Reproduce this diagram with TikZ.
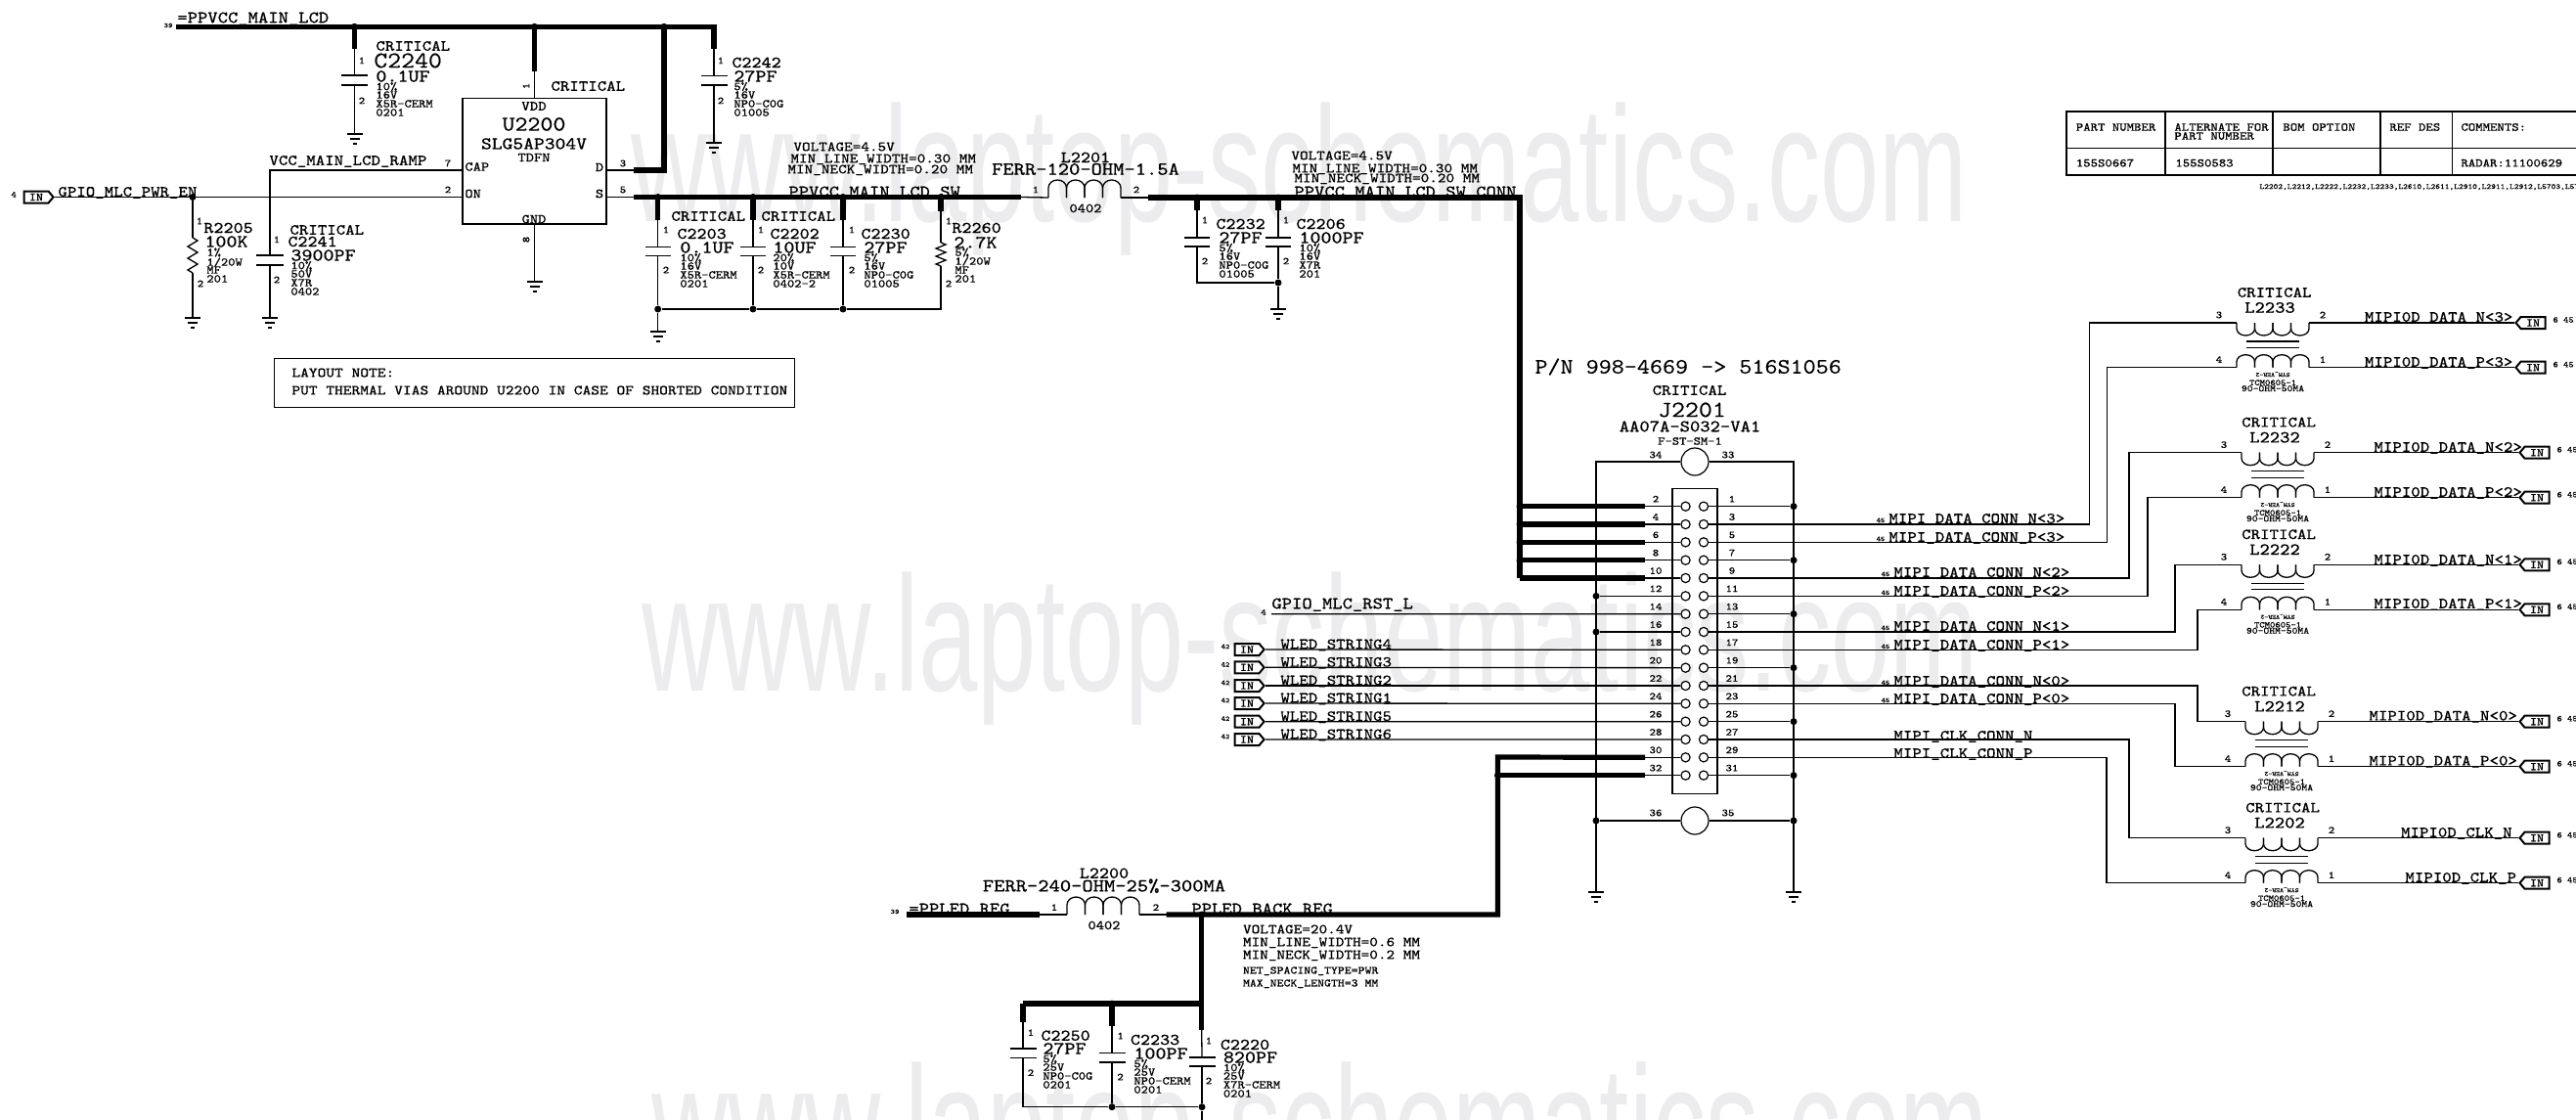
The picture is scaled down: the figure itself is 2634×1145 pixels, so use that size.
\documentclass[tikz,border=0pt]{standalone}
\usepackage{fontspec}
\setmainfont[FakeStretch=1.143,FakeBold=0.3]{Latin Modern Mono}
\newfontfamily\markfont[FakeStretch=0.645]{Liberation Sans}
\usetikzlibrary{shapes.symbols}
\definecolor{markgray}{RGB}{236,236,238}
\tikzset{
% Wires: signal and power
thin wire/.style={line width=0.65pt,draw=black},
bus/.style={line width=2.6pt,draw=black,line join=miter},
% Text set by size in pt, west or centre anchored
txt/.style={anchor=west,inner sep=0pt,text height=0.61*#1pt,text depth=0pt,font=\fontsize{#1}{#1}\selectfont},
ctxt/.style={anchor=center,inner sep=0pt,text height=0.61*#1pt,text depth=0pt,font=\fontsize{#1}{#1}\selectfont},
pin text/.style={ctxt=5.3},
tiny text/.style={ctxt=3.6},
% Node styles for the parts
solid dot/.style={circle,fill=black,inner sep=0pt,minimum size=3.5pt},
pin hole/.style={circle,draw,line width=0.6pt,fill=white,inner sep=0pt,minimum size=4.6pt},
mount hole/.style={circle,draw,line width=0.6pt,fill=white,inner sep=0pt,minimum size=14pt},
part box/.style={rectangle,draw,line width=0.65pt,inner sep=0pt},
in flag/.style={signal,signal pointer angle=100,draw,line width=1pt,fill=white,inner sep=0pt,minimum width=15pt,minimum height=6pt,font=\fontsize{5.8}{6}\selectfont},
grid line/.style={line width=0.65pt,draw=black},
water mark/.style={anchor=base west,inner sep=0pt,text=markgray,font=\markfont\fontsize{84}{84}\selectfont}
}
% Ground symbol
\newcommand{\gndsym}[3]{%
\coordinate (#1) at (#2,#3);
\draw[thin wire] (#1) ++(-8,0) -- ++(16,0) ++(-13,5) -- ++(10,0) ++(-7,5) -- ++(4,0);
}
% Capacitor: name, x, two plates, half width
\newcommand{\capsym}[5]{%
\coordinate (#1top) at (#2,#3);
\coordinate (#1bot) at (#2,#4);
\draw[thin wire] (#1top) ++(-#5,0) -- ++(2*#5,0) (#1bot) ++(-#5,0) -- ++(2*#5,0);
}
% Thick stub from a rail down to a capacitor
\newcommand{\capstub}[4]{%
\node[solid dot] (#1rail) at (#2,#3) {};
\coordinate (#1stub) at (#2,#4);
\draw[bus] (#1rail.center) -- (#1stub);
\draw[thin wire] (#1stub) -- (#1top);
}
\newcommand{\capname}[4]{\node[txt=#4] (#1ref) at (#2,#3) {#1};}
\newcommand{\cappins}[4]{%
\node[pin text] (#1pa) at (#2,#3) {1};
\node[pin text] (#1pb) at (#2,#4) {2};
}
\newcommand{\capspec}[8]{%
\node[txt=9.2] (#1val) at (#2,#3) {#4};
\node[txt=6] (#1ta) at (#2,#3+10.5) {#5};
\node[txt=6] (#1tb) at (#2,#3+19) {#6};
\node[txt=6] (#1tc) at (#2,#3+28) {#7};
\node[txt=6] (#1td) at (#2,#3+37) {#8};
}
% Resistor zigzag
\newcommand{\ressym}[4]{%
\coordinate (#1top) at (#2,#3);
\draw[thin wire] (#1top) -- ++(5,#4/2) -- ++(-10,#4) -- ++(10,#4) -- ++(-10,#4) -- ++(10,#4) -- ++(-10,#4) -- ++(5,#4/2) coordinate (#1bot);
}
% Coil of four turns: name, x, y, half turn, direction, tick, arc height
\newcommand{\coilsym}[7]{%
\coordinate (#1l) at (#2,#3);
\coordinate (#1r) at ({#2+8*#4},#3);
\foreach \k in {0,1,2,3}{
\draw[thin wire] ({#2+2*\k*#4},#3) -- ++(0,#5*#6) arc[start angle=180,delta angle=-180*#5,x radius=#4,y radius=#7] -- ++(0,-1*#5*#6);
}
}
% Common mode choke: name, x, top y, lower y, x of CRITICAL, x of name
\newcommand{\chokesym}[6]{%
\coilsym{#1t}{#2}{#3}{9.25}{1}{6}{7}
\coilsym{#1b}{#2}{#4}{9.25}{-1}{6}{7}
\coordinate (#1core) at (#2+37,#3+19);
\draw[thin wire] (#1core) ++(-27,0) -- ++(54,0) ++(-54,6.5) -- ++(54,0);
\node[ctxt=7.8] (#1crit) at (#5,#3-31) {CRITICAL};
\node[ctxt=8.6] (#1ref) at (#6,#3-15.5) {#1};
\node[pin text] (#1pc) at (#2-18,#3-8) {3};
\node[pin text] (#1pb) at (#2+88,#3-8) {2};
\node[pin text] (#1pd) at (#2-18,#4-8) {4};
\node[pin text] (#1pa) at (#2+88,#4-8) {1};
\node[ctxt=3.2,rotate=180] (#1sym) at (#2+37,#4+7.5) {SYM\_VER-2};
\node[ctxt=4.4] (#1pkg) at (#2+37,#4+15.5) {TCM0605-1};
\node[ctxt=4.8] (#1val) at (#2+37,#4+21.5) {90-OHM-50MA};
}
% Flag on the right: name, coil end, flag x, label x, label y, label
\newcommand{\outflag}[6]{%
\coordinate (#1x) at (#3,0);
\node[in flag,signal to=west] (#1) at (#2 -| #1x) {IN};
\draw[thin wire] (#2) -- (#1.west);
\node[txt=7.8] (#1name) at (#4,#5) {#6};
\node[txt=4.4] (#1ref) at ([shift={(20,-3)}]#1.center) {6 45};
}

\begin{document}
\begin{tikzpicture}[x=0.5pt,y=-0.5pt]
\useasboundingbox (0,0) rectangle (2634,1145);
\fill[white] (0,0) rectangle (2634,1145);
% Watermark
\node[water mark] (markt) at (645,226) {www.laptop-schematics.com};
\node[water mark] (markm) at (656,706) {www.laptop-schematics.com};
\node[water mark] (markb) at (666,1207) {www.laptop-schematics.com};

% Main power rail and switch
\node[tiny text] (refmain) at (172,26) {39};
\node[txt=8.6] (netmain) at (181,18) {=PPVCC\_MAIN\_LCD};
\coordinate (railw) at (180,27.3);
\coordinate (raile) at (730,27.3);
\coordinate (C2242stub) at (730,50);
\draw[bus] (railw) -- (raile) -- (C2242stub);
\node[part box,minimum width=73.5pt,minimum height=64.25pt] (U2200) at (546.5,164.75) {};
\node[ctxt=7] (U2200vdd) at (546,108.5) {VDD};
\node[ctxt=10.8] (U2200ref) at (546,127) {U2200};
\node[ctxt=9] (U2200val) at (546,147) {SLG5AP304V};
\node[ctxt=6.8] (U2200pkg) at (546,161) {TDFN};
\node[txt=6.8] (U2200cap) at (475,170.5) {CAP};
\node[txt=6.8] (U2200on) at (475,198) {ON};
\node[ctxt=6.8] (U2200d) at (613,171) {D};
\node[ctxt=6.8] (U2200s) at (613,198) {S};
\node[ctxt=6.8] (U2200gnd) at (546,224) {GND};
\node[pin text,rotate=90] (U2200p1) at (538,88) {1};
\node[pin text,rotate=90] (U2200p8) at (538,245) {8};
\node[pin text] (U2200p7) at (458,167) {7};
\node[pin text] (U2200p2) at (458,194) {2};
\node[pin text] (U2200p3) at (637,167) {3};
\node[pin text] (U2200p5) at (637,194) {5};
\node[txt=7.8] (U2200crit) at (563,88) {CRITICAL};
\node[solid dot] (vddrail) at (546.5,27.3) {};
\coordinate (vddstub) at (546.5,73);
\draw[bus] (vddrail.center) -- (vddstub);
\draw[thin wire] (vddstub) -- (U2200.north);
\gndsym{gndu}{546.5}{288}
\draw[thin wire] (U2200.south) -- (gndu);
\node[solid dot] (drainrail) at (679,27.3) {};
\coordinate (draine) at (679,174);
\coordinate (drainw) at (648,174);
\coordinate (drainpin) at (620,174);
\draw[bus] (drainrail.center) -- (draine) -- (drainw);
\draw[thin wire] (drainw) -- (drainpin);

% C2240 and C2242
\capsym{C2240}{362.5}{77}{87}{13.5}
\capstub{C2240}{362.5}{27.3}{50}
\gndsym{gnd40}{362.5}{137}
\draw[thin wire] (C2240bot) -- (gnd40);
\node[txt=7.8] (C2240crit) at (384,47) {CRITICAL};
\capname{C2240}{382}{62}{11.8}
\capspec{C2240}{384}{78}{0.1UF}{10\%}{16V}{X5R-CERM}{0201}
\cappins{C2240}{370}{62}{103}
\capsym{C2242}{730}{77.5}{87}{13.5}
\draw[thin wire] (C2242stub) -- (C2242top);
\gndsym{gnd42}{730}{146}
\draw[thin wire] (C2242bot) -- (gnd42);
\capname{C2242}{748}{64}{8.3}
\capspec{C2242}{750}{78}{27PF}{5\%}{16V}{NP0-C0G}{01005}
\cappins{C2242}{737}{62}{103}

% Enable and ramp
\node[in flag] (inmlc) at (37,201.5) {IN};
\node[txt=4.4] (refmlc) at (11,199) {4};
\node[txt=7.8] (netmlc) at (59,196) {GPIO\_MLC\_PWR\_EN};
\coordinate (onpin) at (473,201.5);
\draw[thin wire] (inmlc.east) -- (onpin);
\node[solid dot] (mlcdot) at (197,201.5) {};
\ressym{R2205}{197}{243}{6}
\gndsym{gnd05}{197}{325}
\draw[thin wire] (mlcdot) -- (R2205top);
\draw[thin wire] (R2205bot) -- (gnd05);
\node[pin text] (R2205pa) at (204,226) {1};
\node[pin text] (R2205pb) at (205,290) {2};
\node[txt=8.3] (R2205ref) at (208,233) {R2205};
\node[txt=9.2] (R2205val) at (209,247) {100K};
\node[txt=6] (R2205ta) at (211,258) {1\%};
\node[txt=6] (R2205tb) at (211,268) {1/20W};
\node[txt=6] (R2205tc) at (211,276) {MF};
\node[txt=6] (R2205td) at (211,285) {201};
\coordinate (cappin) at (473,174);
\coordinate (rampc) at (276,174);
\node[txt=7.8] (netramp) at (275,164) {VCC\_MAIN\_LCD\_RAMP};
\capsym{C2241}{276}{261}{271}{14}
\gndsym{gnd41}{276}{325}
\draw[thin wire] (cappin) -- (rampc) -- (C2241top);
\draw[thin wire] (C2241bot) -- (gnd41);
\node[txt=7.8] (C2241crit) at (296,235) {CRITICAL};
\capname{C2241}{294}{247}{8.3}
\capspec{C2241}{297}{261}{3900PF}{10\%}{50V}{X7R}{0402}
\cappins{C2241}{283}{245}{286}

% Note box
\node[part box,minimum width=266pt,minimum height=25pt] (notebox) at (546.6,391.7) {};
\node[txt=7.2] (notea) at (298,381) {LAYOUT NOTE:};
\node[txt=7.2] (noteb) at (298,399) {PUT THERMAL VIAS AROUND U2200 IN CASE OF SHORTED CONDITION};

% Switched rail
\coordinate (swpin) at (620,201.5);
\coordinate (swa) at (648,201.5);
\coordinate (swb) at (1044,201.5);
\draw[thin wire] (swpin) -- (swa);
\draw[bus] (swa) -- (swb);
\node[txt=7.1] (swnotea) at (811,150) {VOLTAGE=4.5V};
\node[txt=7.1] (swnoteb) at (808,162) {MIN\_LINE\_WIDTH=0.30 MM};
\node[txt=7.1] (swnotec) at (805,173) {MIN\_NECK\_WIDTH=0.20 MM};
\node[txt=8.6] (netsw) at (806,196) {PPVCC\_MAIN\_LCD\_SW};
\capsym{C2203}{672.7}{252.7}{261.7}{13}
\capstub{C2203}{672.7}{201.5}{225}
\capsym{C2202}{770}{252.7}{261.7}{13}
\capstub{C2202}{770}{201.5}{225}
\capsym{C2230}{862}{252.7}{261.7}{13}
\capstub{C2230}{862}{201.5}{225}
\ressym{R2260}{962}{248}{4}
\node[solid dot] (R2260rail) at (962,201.5) {};
\coordinate (R2260stub) at (962,216);
\draw[bus] (R2260rail.center) -- (R2260stub);
\draw[thin wire] (R2260stub) -- (R2260top);
\node[solid dot] (low1) at (672.7,316) {};
\node[solid dot] (low2) at (770,316) {};
\node[solid dot] (low3) at (862,316) {};
\coordinate (low4) at (962,316);
\gndsym{gnd03}{672.7}{339}
\draw[thin wire] (C2203bot) -- (low1) -- (gnd03);
\draw[thin wire] (C2202bot) -- (low2);
\draw[thin wire] (C2230bot) -- (low3);
\draw[thin wire] (R2260bot) -- (low4) -- (low3) -- (low2) -- (low1);
\node[txt=7.8] (C2203crit) at (686,221) {CRITICAL};
\capname{C2203}{692}{239}{8.3}
\capspec{C2203}{695}{253}{0.1UF}{10\%}{16V}{X5R-CERM}{0201}
\cappins{C2203}{681}{235}{276}
\node[txt=7.8] (C2202crit) at (778,221) {CRITICAL};
\capname{C2202}{787}{239}{8.3}
\capspec{C2202}{790}{253}{10UF}{20\%}{10V}{X5R-CERM}{0402-2}
\cappins{C2202}{778}{235}{276}
\capname{C2230}{880}{239}{8.3}
\capspec{C2230}{883}{253}{27PF}{5\%}{16V}{NP0-C0G}{01005}
\cappins{C2230}{871}{235}{276}
\node[pin text] (R2260pa) at (970,226) {1};
\node[pin text] (R2260pb) at (970,290) {2};
\node[txt=8.3] (R2260ref) at (973,233) {R2260};
\node[txt=9.2] (R2260val) at (975,248) {2.7K};
\node[txt=6] (R2260ta) at (976,258) {5\%};
\node[txt=6] (R2260tb) at (976,267) {1/20W};
\node[txt=6] (R2260tc) at (976,276) {MF};
\node[txt=6] (R2260td) at (976,285) {201};

% L2201 and connector rail
\coilsym{L2201}{1072}{202}{9.25}{-1}{10}{8}
\coordinate (connw) at (1174,202);
\coordinate (connc) at (1554,202);
\coordinate (conns) at (1554,591);
\draw[thin wire] (swb) -- (L2201l);
\draw[thin wire] (L2201r) -- (connw);
\draw[bus] (connw) -- (connc) -- (conns);
\node[pin text] (L2201pa) at (1059,194) {1};
\node[pin text] (L2201pb) at (1162,194) {2};
\node[ctxt=8.3] (L2201ref) at (1110,161) {L2201};
\node[ctxt=9.4] (L2201val) at (1110,173) {FERR-120-OHM-1.5A};
\node[ctxt=6.8] (L2201pkg) at (1110,213) {0402};
\node[txt=7.1] (connnotea) at (1320,159) {VOLTAGE=4.5V};
\node[txt=7.1] (connnoteb) at (1321,172) {MIN\_LINE\_WIDTH=0.30 MM};
\node[txt=7.1] (connnotec) at (1323,182) {MIN\_NECK\_WIDTH=0.20 MM};
\node[txt=8.6] (netconn) at (1323,196) {PPVCC\_MAIN\_LCD\_SW\_CONN};
\capsym{C2232}{1224}{243}{252}{13}
\capstub{C2232}{1224}{202}{215}
\capsym{C2206}{1307}{243}{252}{13}
\capstub{C2206}{1307}{202}{215}
\coordinate (low32) at (1224,289);
\node[solid dot] (low06) at (1307,289) {};
\gndsym{gnd06}{1307}{316}
\draw[thin wire] (C2232bot) -- (low32) -- (low06);
\draw[thin wire] (C2206bot) -- (low06) -- (gnd06);
\capname{C2232}{1243}{229}{8.3}
\capspec{C2232}{1246}{243}{27PF}{5\%}{16V}{NP0-C0G}{01005}
\cappins{C2232}{1232}{225}{267}
\capname{C2206}{1325}{229}{8.3}
\capspec{C2206}{1328}{243}{1000PF}{10\%}{16V}{X7R}{201}
\cappins{C2206}{1315}{225}{267}

% Connector J2201
\node[txt=11.1] (jpn) at (1569,375) {P/N 998-4669 -> 516S1056};
\node[ctxt=7.8] (jcrit) at (1727.5,399) {CRITICAL};
\node[ctxt=11.8] (jref) at (1730,419) {J2201};
\node[ctxt=8.6] (jval) at (1728,436) {AA07A-S032-VA1};
\node[ctxt=6] (jpkg) at (1728,451) {F-ST-SM-1};
\node[part box,minimum width=23pt,minimum height=156pt] (jbox) at (1733,655.7) {};
\foreach \i in {0,...,15}{
\pgfmathsetmacro\rowy{517.7+18.33*\i}
\pgfmathtruncatemacro\pl{2*\i+2}
\pgfmathtruncatemacro\pr{2*\i+1}
\node[pin hole] (hl\pl) at (1723.5,\rowy) {};
\node[pin hole] (hr\pr) at (1742,\rowy) {};
\node[pin text] (nl\pl) at (1693,\rowy-7.5) {\pl};
\node[pin text] (nr\pr) at (1771,\rowy-7.5) {\pr};
}
\node[mount hole] (jtop) at (1733,472) {};
\node[mount hole] (jbot) at (1733,839) {};
\node[pin text] (n34) at (1693,465) {34};
\node[pin text] (n33) at (1767,465) {33};
\node[pin text] (n36) at (1693,831) {36};
\node[pin text] (n35) at (1767,831) {35};
\coordinate (lgnd) at (1632,472);
\coordinate (rgnd) at (1834,472);
\gndsym{gndl}{1632}{912}
\gndsym{gndr}{1834}{912}
\draw[thin wire] (gndl) -- (lgnd) -- (jtop) -- (rgnd) -- (gndr);
\node[solid dot] (jbotl) at (1632,839) {};
\node[solid dot] (jbotr) at (1834,839) {};
\draw[thin wire] (jbotl) -- (jbot) -- (jbotr);
% Left pins on the thick rails
\coordinate (lbreak) at (1682,500);
\foreach \p in {2,4,6,8,10}{
\draw[bus] (conns |- hl\p) -- (lbreak |- hl\p);
\draw[thin wire] (lbreak |- hl\p) -- (hl\p);
}
\foreach \p in {2,4,6,8}{
\node[solid dot] (railj\p) at (conns |- hl\p) {};
}
\foreach \p in {12,16}{
\node[solid dot] (gndj\p) at (lgnd |- hl\p) {};
\draw[thin wire] (gndj\p) -- (hl\p);
}
\foreach \p in {1,7,13,19,25,31}{
\node[solid dot] (gndj\p) at (rgnd |- hr\p) {};
\draw[thin wire] (hr\p) -- (gndj\p);
}
% Reset and LED strings
\node[txt=4.4] (refrst) at (1289,626) {4};
\node[txt=8.6] (netrst) at (1300,617) {GPIO\_MLC\_RST\_L};
\coordinate (rststart) at (1300,627.7);
\draw[thin wire] (rststart) -- (hl14);
\foreach \p/\s/\y in {18/4/664,20/3/682.3,22/2/701,24/1/719,26/5/737.7,28/6/756}{
\node[in flag] (wled\s) at (1275,\y) {IN};
\draw[thin wire] (wled\s.east) -- (hl\p);
\node[txt=7.8] (wlednet\s) at (1309,\y-5.5) {WLED\_STRING\s};
\node[tiny text] (wledref\s) at (1253,\y-3) {42};
}
% LED supply
\coordinate (ledc) at (1531.5,774);
\coordinate (ledd) at (1531.5,935);
\coordinate (ledw) at (1192.5,935);
\draw[bus] (lbreak |- hl30) -- (ledc) -- (ledd) -- (ledw);
\node[solid dot] (ledj) at (ledc |- hl32) {};
\draw[bus] (ledj.center) -- (lbreak |- hl32);
\draw[thin wire] (lbreak |- hl30) -- (hl30);
\draw[thin wire] (lbreak |- hl32) -- (hl32);
\coilsym{L2200}{1091}{935}{9.25}{-1}{10}{8}
\coordinate (ledr) at (1063,935);
\coordinate (ledl) at (927,935);
\draw[bus] (ledl) -- (ledr);
\draw[thin wire] (ledr) -- (L2200l);
\draw[thin wire] (L2200r) -- (ledw);
\node[tiny text] (refled) at (915,932) {39};
\node[txt=8.6] (netled) at (929,929) {=PPLED\_REG};
\node[txt=8.6] (netback) at (1218,929) {PPLED\_BACK\_REG};
\node[pin text] (L2200pa) at (1078,927.7) {1};
\node[pin text] (L2200pb) at (1182,927.7) {2};
\node[ctxt=8.3] (L2200ref) at (1129,892.7) {L2200};
\node[ctxt=9.4] (L2200val) at (1129,905.7) {FERR-240-OHM-25\%-300MA};
\node[ctxt=6.8] (L2200pkg) at (1129,946) {0402};
\node[txt=7.1] (lednotea) at (1270.6,950) {VOLTAGE=20.4V};
\node[txt=7.1] (lednoteb) at (1270.6,963) {MIN\_LINE\_WIDTH=0.6 MM};
\node[txt=7.1] (lednotec) at (1270.6,976) {MIN\_NECK\_WIDTH=0.2 MM};
\node[txt=5.7] (lednoted) at (1270.6,992) {NET\_SPACING\_TYPE=PWR};
\node[txt=5.7] (lednotee) at (1270.6,1005) {MAX\_NECK\_LENGTH=3 MM};
\node[solid dot] (ledk) at (1228.7,935) {};
\coordinate (capc) at (1228.7,1026);
\coordinate (capw) at (1046,1026);
\draw[bus] (ledk.center) -- (capc) -- (capw);
\capsym{C2250}{1046}{1072}{1081.7}{13.5}
\coordinate (C2250stub) at (1046,1045);
\draw[bus] (capw) -- (C2250stub);
\draw[thin wire] (C2250stub) -- (C2250top);
\capsym{C2233}{1137}{1076.7}{1086}{13.5}
\capstub{C2233}{1137}{1026}{1049}
\capsym{C2220}{1229}{1081}{1090}{13.5}
\coordinate (C2220stub) at (1228.7,1053);
\draw[bus] (capc) -- (C2220stub);
\draw[thin wire] (C2220stub) -- (C2220top);
\coordinate (low50) at (1046,1131.7);
\node[solid dot] (low33) at (1137,1131.7) {};
\node[solid dot] (low20) at (1229,1131.7) {};
\coordinate (lowend) at (1229,1145);
\draw[thin wire] (C2250bot) -- (low50) -- (low33) -- (low20) -- (lowend);
\draw[thin wire] (C2233bot) -- (low33);
\draw[thin wire] (C2220bot) -- (low20);
\capname{C2250}{1064}{1058.7}{8.3}
\capspec{C2250}{1066}{1072}{27PF}{5\%}{25V}{NP0-C0G}{0201}
\cappins{C2250}{1054}{1055.7}{1096.7}
\capname{C2233}{1155.5}{1063}{8.3}
\capspec{C2233}{1159}{1077}{100PF}{5\%}{25V}{NP0-CERM}{0201}
\cappins{C2233}{1145.6}{1059}{1101}
\capname{C2220}{1247.4}{1068}{8.3}
\capspec{C2220}{1250.5}{1081}{820PF}{10\%}{25V}{X7R-CERM}{0201}
\cappins{C2220}{1236}{1064}{1105}

% Signal names at the connector
\foreach \n/\t/\x/\y in {a/N<3>/1931/530,b/P<3>/1931/549,c/N<2>/1936/585,d/P<2>/1936/604,e/N<1>/1936/640,f/P<1>/1936/659,g/N<0>/1936/696,h/P<0>/1936/714}{
\node[txt=7.8] (conn\n) at (\x,\y) {MIPI\_DATA\_CONN\_\t};
\node[tiny text] (connref\n) at (\x-8,\y+2) {45};
}
\node[txt=7.8] (connclkn) at (1936,752) {MIPI\_CLK\_CONN\_N};
\node[txt=7.8] (connclkp) at (1936,770) {MIPI\_CLK\_CONN\_P};

% Chokes
\chokesym{L2233}{2287}{330}{375.7}{2325.6}{2321}
\chokesym{L2232}{2292}{462.7}{508.7}{2330}{2326}
\chokesym{L2222}{2292}{577.3}{623.3}{2330}{2326}
\chokesym{L2212}{2296}{737.7}{783.7}{2330}{2331}
\chokesym{L2202}{2296}{856.7}{902.7}{2334}{2331}
\foreach \p/\x/\t in {3/2136.5/L2233tl,5/2154.5/L2233bl,9/2177/L2232tl,11/2196/L2232bl,15/2224/L2222tl,17/2247/L2222bl,21/2247/L2212tl,23/2224/L2212bl,27/2177/L2202tl,29/2154/L2202bl}{
\coordinate (turn\p) at (\x,0);
\draw[thin wire] (hr\p) -- (hr\p -| turn\p) |- (\t);
}
\outflag{out3n}{L2233tr}{2590}{2417.5}{324}{MIPI0D\_DATA\_N<3>}
\outflag{out3p}{L2233br}{2590}{2417.5}{370}{MIPI0D\_DATA\_P<3>}
\outflag{out2n}{L2232tr}{2594}{2427}{457}{MIPI0D\_DATA\_N<2>}
\outflag{out2p}{L2232br}{2594}{2427}{503}{MIPI0D\_DATA\_P<2>}
\outflag{out1n}{L2222tr}{2594}{2427}{572}{MIPI0D\_DATA\_N<1>}
\outflag{out1p}{L2222br}{2594}{2427}{617}{MIPI0D\_DATA\_P<1>}
\outflag{out0n}{L2212tr}{2594}{2422}{731.7}{MIPI0D\_DATA\_N<0>}
\outflag{out0p}{L2212br}{2594}{2422}{777.7}{MIPI0D\_DATA\_P<0>}
\outflag{outclkn}{L2202tr}{2594}{2454.6}{851}{MIPI0D\_CLK\_N}
\outflag{outclkp}{L2202br}{2594}{2459}{897}{MIPI0D\_CLK\_P}

% Alternate parts table
\coordinate (tbla) at (2113,114);
\coordinate (tblb) at (2640,179);
\draw[grid line] (tbla) rectangle (tblb);
\draw[grid line] (2113,151.7) -- (2640,151.7);
\foreach \x in {2214,2324,2434,2507.5}{
\draw[grid line] (\x,114) -- (\x,179);
}
\node[txt=6.1] (tblh1) at (2122.4,130) {PART NUMBER};
\node[txt=6.1] (tblh2) at (2223,130) {ALTERNATE FOR};
\node[txt=6.1] (tblh3) at (2223,139) {PART NUMBER};
\node[txt=6.1] (tblh4) at (2334,130) {BOM OPTION};
\node[txt=6.1] (tblh5) at (2443,130) {REF DES};
\node[txt=6.1] (tblh6) at (2516,130) {COMMENTS:};
\node[txt=6.1] (tblv1) at (2122.4,166.7) {155S0667};
\node[txt=6.1] (tblv2) at (2224,166.7) {155S0583};
\node[txt=6.1] (tblv3) at (2516,166.7) {RADAR:11100629};
\node[txt=3.9] (tblrefs) at (2310,190.7) {L2202,L2212,L2222,L2232,L2233,L2610,L2611,L2910,L2911,L2912,L5703,L57};
\end{tikzpicture}
\end{document}
